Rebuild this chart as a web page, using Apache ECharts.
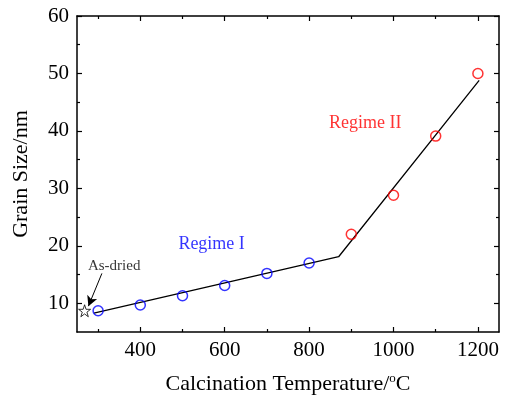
<!DOCTYPE html>
<html>
<head>
<meta charset="utf-8">
<style>
  html, body { margin: 0; padding: 0; background: #fff; }
  #chart { width: 505px; height: 399px; }
</style>
<script src="https://cdn.jsdelivr.net/npm/echarts@6/dist/echarts.min.js"></script>
</head>
<body>
<div id="chart"></div>
<script>
// Grain size vs. calcination temperature
const regime1Temps = [300, 400, 500, 600, 700, 800];
const regime1Sizes = [8.7, 9.7, 11.3, 13.1, 15.2, 17.0];
const regime2Temps = [900, 1000, 1100, 1200];
const regime2Sizes = [22.0, 28.8, 39.1, 50.0];
const asDried = [268, 8.7];
// two-segment linear fit through both regimes
const fitLine = [[290, 8.3], [870, 18.1], [1203, 48.8]];
const xTicks = [400, 600, 800, 1000, 1200];
const xMinorTicks = [300, 500, 700, 900, 1100];
const yTicks = [10, 20, 30, 40, 50, 60];
const yMinorTicks = [15, 25, 35, 45, 55];

const FONT = '"Liberation Serif", "Times New Roman", serif';
const starPath = 'path://M50,0 L61.8,35.3 L99,35.3 L69,57.3 L80.4,92.7 L50,70.9 L19.6,92.7 L31,57.3 L1,35.3 L38.2,35.3 Z';

function axisBase(extra) {
  return Object.assign({
    axisLine: { show: true, onZero: false, lineStyle: { color: '#000', width: 1.5 } },
    splitLine: { show: false }
  }, extra);
}

const plain = v => String(v);

const chart = echarts.init(document.getElementById('chart'), null, { renderer: 'canvas' });

const option = {
  animation: false,
  backgroundColor: '#fff',
  grid: { left: 77, right: 6, top: 16, bottom: 67, containLabel: false, outerBoundsMode: 'none' },
  xAxis: [
    axisBase({
      type: 'value', position: 'bottom', min: 250, max: 1250,
      axisTick: { show: true, inside: true, length: 5, lineStyle: { color: '#000', width: 1.2 }, customValues: xTicks },
      axisLabel: { show: true, customValues: xTicks, formatter: plain, color: '#000', fontFamily: FONT, fontSize: 21, margin: 8 },
      name: '{n|Calcination Temperature/}{s|o}{n|C}',
      nameLocation: 'middle', nameGap: 40,
      nameTextStyle: {
        rich: {
          n: { fontFamily: FONT, fontSize: 22, color: '#000' },
          s: { fontFamily: FONT, fontSize: 13, color: '#000', verticalAlign: 'top', padding: [0, 0, 12, 0] }
        }
      }
    }),
    axisBase({
      type: 'value', position: 'bottom', min: 250, max: 1250,
      axisLine: { show: false },
      axisTick: { show: true, inside: true, length: 3, lineStyle: { color: '#000', width: 1.2 }, customValues: xMinorTicks },
      axisLabel: { show: false }
    }),
    axisBase({
      type: 'value', position: 'top', min: 250, max: 1250,
      axisTick: { show: true, inside: true, length: 5, lineStyle: { color: '#000', width: 1.2 }, customValues: xTicks },
      axisLabel: { show: false }
    }),
    axisBase({
      type: 'value', position: 'top', min: 250, max: 1250,
      axisLine: { show: false },
      axisTick: { show: true, inside: true, length: 3, lineStyle: { color: '#000', width: 1.2 }, customValues: xMinorTicks },
      axisLabel: { show: false }
    })
  ],
  yAxis: [
    axisBase({
      type: 'value', position: 'left', min: 5, max: 60,
      axisTick: { show: true, inside: true, length: 5, lineStyle: { color: '#000', width: 1.2 }, customValues: yTicks },
      axisLabel: { show: true, customValues: yTicks, formatter: plain, color: '#000', fontFamily: FONT, fontSize: 21, margin: 8 },
      name: 'Grain Size/nm',
      nameLocation: 'middle', nameGap: 45, nameRotate: 90,
      nameTextStyle: { fontFamily: FONT, fontSize: 22, color: '#000' }
    }),
    axisBase({
      type: 'value', position: 'left', min: 5, max: 60,
      axisLine: { show: false },
      axisTick: { show: true, inside: true, length: 3, lineStyle: { color: '#000', width: 1.2 }, customValues: yMinorTicks },
      axisLabel: { show: false }
    }),
    axisBase({
      type: 'value', position: 'right', min: 5, max: 60,
      axisTick: { show: true, inside: true, length: 5, lineStyle: { color: '#000', width: 1.2 }, customValues: yTicks },
      axisLabel: { show: false }
    }),
    axisBase({
      type: 'value', position: 'right', min: 5, max: 60,
      axisLine: { show: false },
      axisTick: { show: true, inside: true, length: 3, lineStyle: { color: '#000', width: 1.2 }, customValues: yMinorTicks },
      axisLabel: { show: false }
    })
  ],
  series: [
    {
      name: 'Fit', type: 'line', data: fitLine, symbol: 'none', z: 2,
      lineStyle: { color: '#000', width: 1.3 },
      markLine: {
        silent: true, symbol: ['none', 'arrow'], symbolSize: [8, 10],
        lineStyle: { color: '#000', width: 1, type: 'solid' },
        label: { show: false },
        data: [[{ coord: [309, 15.2] }, { coord: [277, 9.5] }]]
      }
    },
    {
      name: 'Regime I', type: 'scatter', z: 3,
      data: regime1Temps.map((t, i) => [t, regime1Sizes[i]]),
      symbol: 'circle', symbolSize: 10,
      itemStyle: { color: 'rgba(255,255,255,0)', borderColor: '#0000ff', borderWidth: 1.5 }
    },
    {
      name: 'Regime II', type: 'scatter', z: 3,
      data: regime2Temps.map((t, i) => [t, regime2Sizes[i]]),
      symbol: 'circle', symbolSize: 10,
      itemStyle: { color: 'rgba(255,255,255,0)', borderColor: '#ff0000', borderWidth: 1.5 }
    },
    {
      name: 'As-dried', type: 'scatter', z: 3,
      data: [asDried],
      symbol: starPath, symbolSize: 12,
      itemStyle: { color: '#fff', borderColor: '#000', borderWidth: 1 }
    },
    {
      name: 'Labels', type: 'scatter', z: 4, symbolSize: 0, silent: true,
      data: [
        { value: [569, 20.3], label: { formatter: 'Regime I', color: '#0000ff', fontSize: 18 } },
        { value: [933, 41.4], label: { formatter: 'Regime II', color: '#ff0000', fontSize: 18 } },
        { value: [338, 16.5], label: { formatter: 'As-dried', color: '#000', fontSize: 15 } }
      ],
      label: { show: true, position: 'inside', fontFamily: FONT }
    }
  ]
};

chart.setOption(option);
</script>
</body>
</html>
